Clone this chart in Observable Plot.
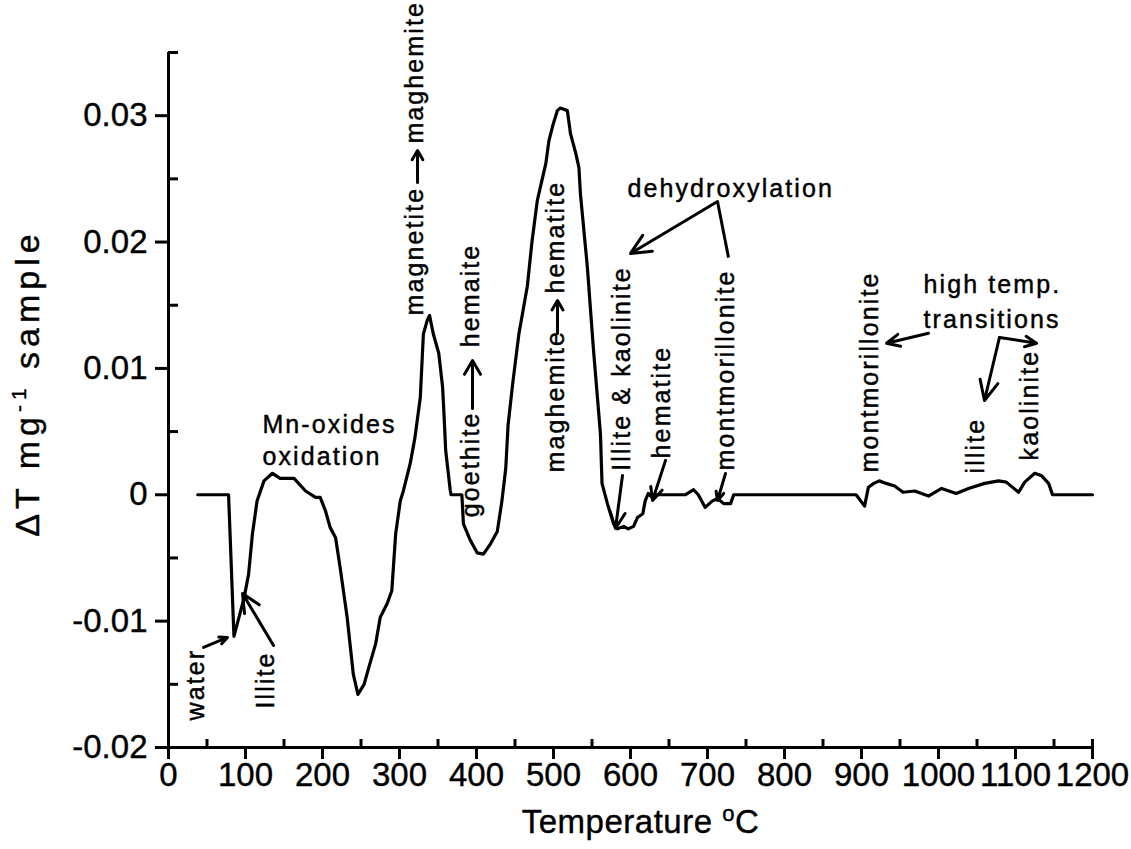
<!DOCTYPE html>
<html><head><meta charset="utf-8">
<script src="https://cdn.jsdelivr.net/npm/d3@7"></script>
<script src="https://cdn.jsdelivr.net/npm/@observablehq/plot@0.6"></script>
<style>
body{margin:0;background:#fff;}
g[aria-description="annot"]{letter-spacing:2.1px;stroke:#000;stroke-width:0.45px}
g[aria-description="ylabel"]{letter-spacing:5px;stroke:#000;stroke-width:0.4px}
g[aria-description="xlabel"]{letter-spacing:0.5px;stroke:#000;stroke-width:0.4px}
g[aria-label$="tick label"]{stroke:#000;stroke-width:0.4px}
</style></head><body><div id="chart"></div>
<script>
// DTA curve: temperature (°C) and ΔT per mg sample
const temperature = [38,78,85,98,104,109,115,124,135,145,163,178,191,197,204,210,217,223,232,240,246,254,260,269,275,284,290,295,301,305,314,320,327,331,336,339,344,351,356,358,360,366,367,381,383,392,401,409,418,427,433,438,441,447,455,466,472,479,490,494,499,505,509,518,522,529,533,535,544,552,561,563,570,578,583,591,597,604,609,616,619,623,628,630,671,682,688,697,706,713,721,730,734,893,904,909,916,923,932,943,954,969,987,1004,1023,1039,1060,1078,1088,1104,1112,1125,1134,1143,1147,1148,1200];
const deltaT = [0,0,-0.0112,-0.0082,-0.0063,-0.0031,-0.0005,0.0011,0.0017,0.0013,0.0013,0.0003,-0.0002,-0.0002,-0.0013,-0.0026,-0.0034,-0.0058,-0.0097,-0.0142,-0.0158,-0.0150,-0.0137,-0.0118,-0.0097,-0.0086,-0.0076,-0.0031,-0.0005,0.0003,0.0025,0.0045,0.0077,0.0127,0.0138,0.0142,0.0127,0.0112,0.0085,0.0061,0.0035,0.0003,0,0,-0.0023,-0.0036,-0.0046,-0.0047,-0.0039,-0.0029,-0.0005,0.0021,0.0055,0.0088,0.0127,0.0165,0.0200,0.0233,0.0262,0.0280,0.0292,0.0304,0.0306,0.0304,0.0286,0.0270,0.0259,0.0238,0.0180,0.0114,0.0048,0.0009,-0.0007,-0.0023,-0.0027,-0.0025,-0.0027,-0.0025,-0.0018,-0.0015,-0.0005,0.0001,-0.0002,0,0,0.0004,0,-0.0010,-0.0005,-0.0003,-0.0007,-0.0007,0,0,-0.0009,0.0006,0.0009,0.0011,0.0009,0.0007,0.0002,0.0003,-0.0001,0.0005,0.0001,0.0005,0.0009,0.0011,0.0010,0.0002,0.0010,0.0017,0.0015,0.0009,0.0002,0,0];

// axis ticks
const xTicks = [0,100,200,300,400,500,600,700,800,900,1000,1100,1200];
const xTickLabels = ["0","100","200","300","400","500","600","700","800","900","1000","1100","1200"];
const xMinor = [50,150,250,350,450,550,650,750,850,950,1050,1150,1200];
const yTicks = [-0.02,-0.01,0,0.01,0.02,0.03];
const yTickLabels = ["-0.02","-0.01","0","0.01","0.02","0.03"];
const yMinor = [-0.015,-0.005,0.005,0.015,0.025,0.035];

// vertical annotation labels (text starts at bottom)
const vLabels = ["water","Illite","magnetite","maghemite","goethite","hemaite","maghemite","hematite","Illite & kaolinite","hematite","montmorillonite","montmorillonite","illite","kaolinite"];
const vLabelT = [35.7,126.6,319.5,319.5,392.9,392.9,503.2,503.2,589,641,724,911,1048.7,1118.8];
const vLabelV = [-0.01786,-0.01691,0.01419,0.02779,-0.00178,0.01167,0.00176,0.01593,0.0019,0.00288,0.00192,0.00176,0.00169,0.00272];

// horizontal annotation labels
const hLabels = ["Mn-oxides","oxidation","dehydroxylation","high temp.","transitions"];
const hLabelT = [122,122,596,980.5,980.5];
const hLabelV = [0.00485,0.00232,0.02353,0.01594,0.01317];

// annotation arrows (from -> to, arrowhead at "to")
const arrowT1 = [45.5,136.4,589.6,645.5,723.4,713,987,1079.2,1079.2];
const arrowV1 = [-0.01208,-0.01193,0.00153,0.00272,0.00169,0.02321,0.01278,0.01245,0.01245];
const arrowT2 = [76.6,96.1,580.5,628.6,713,600,932.5,1059.7,1127.3];
const arrowV2 = [-0.01129,-0.00781,-0.00267,-0.00045,-0.00045,0.0191,0.01199,0.00746,0.01199];
// small transformation arrows inside the vertical labels
const transT = [323.4,394.8,505.2];
const transV1 = [0.02471,0.00683,0.01277];
const transV2 = [0.02724,0.01063,0.01538];
// plain connector lines
const linkT1 = [713], linkV1 = [0.02321], linkT2 = [727.3], linkV2 = [0.01877];

const curve = temperature.map((t,i)=>({t, v: deltaT[i]}));
const vRows = vLabels.map((s,i)=>({s, t: vLabelT[i], v: vLabelV[i]}));
const hRows = hLabels.map((s,i)=>({s, t: hLabelT[i], v: hLabelV[i]}));
const arrows = arrowT1.map((t,i)=>({x1:t, y1:arrowV1[i], x2:arrowT2[i], y2:arrowV2[i]}));
const trans = transT.map((t,i)=>({x1:t, y1:transV1[i], x2:t, y2:transV2[i]}));
const links = linkT1.map((t,i)=>({x1:t, y1:linkV1[i], x2:linkT2[i], y2:linkV2[i]}));

const svg = Plot.plot({
  width: 1131, height: 849,
  marginLeft: 168, marginRight: 39, marginTop: 52, marginBottom: 102,
  x: {domain: [0,1200]},
  y: {domain: [-0.02,0.035]},
  style: {fontFamily: "'Liberation Sans', Arial, Helvetica, sans-serif", color: "black", background: "white"},
  marks: [
    Plot.ruleX([0], {strokeWidth: 3}),
    Plot.ruleY([-0.02], {strokeWidth: 3}),
    Plot.axisY({ticks: yTicks, tickFormat: d => yTickLabels[yTicks.indexOf(d)], tickSize: 13, tickPadding: 8, fontSize: 33, strokeWidth: 3, label: null}),
    Plot.axisX({ticks: xTicks, tickFormat: d => xTickLabels[xTicks.indexOf(d)], tickSize: 12, tickPadding: 3, fontSize: 33, strokeWidth: 3, label: null}),
    Plot.tickY(yMinor, {insetRight: 914, strokeWidth: 3}),
    Plot.tickX(xMinor, {insetTop: 687, strokeWidth: 3}),
    Plot.line(curve, {x: "t", y: "v", strokeWidth: 3.2, strokeLinejoin: "round"}),
    Plot.arrow(arrows, {x1: "x1", y1: "y1", x2: "x2", y2: "y2", strokeWidth: 3, headLength: 11, headAngle: 50}),
    Plot.arrow(trans, {x1: "x1", y1: "y1", x2: "x2", y2: "y2", strokeWidth: 3, headLength: 9, headAngle: 60}),
    Plot.link(links, {x1: "x1", y1: "y1", x2: "x2", y2: "y2", strokeWidth: 3}),
    Plot.text(vRows, {x: "t", y: "v", text: "s", rotate: -90, textAnchor: "start", lineAnchor: "middle", fontSize: 25, fill: "black", ariaDescription: "annot"}),
    Plot.text(hRows, {x: "t", y: "v", text: "s", textAnchor: "start", lineAnchor: "bottom", fontSize: 25, fill: "black", ariaDescription: "annot"}),
    Plot.text(["Temperature C"], {frameAnchor: "bottom", dx: 10, dy: 85, textAnchor: "middle", lineAnchor: "bottom", fontSize: 33, fill: "black", ariaDescription: "xlabel"}),
    Plot.text(["\u0394T mg sample"], {frameAnchor: "left", dx: -140, dy: -17, rotate: -90, textAnchor: "middle", lineAnchor: "middle", fontSize: 34, fill: "black", ariaDescription: "ylabel"})
  ]
});

// superscripts in axis labels
const xl = d3.select(svg).select('g[aria-description="xlabel"] text');
xl.text(null);
xl.append("tspan").text("Temperature\u00a0");
xl.append("tspan").attr("dy", "-12px").attr("font-size", "22px").text("o");
xl.append("tspan").attr("dy", "12px").text("C");
const yl = d3.select(svg).select('g[aria-description="ylabel"] text');
yl.text(null);
yl.append("tspan").text("\u0394T mg");
yl.append("tspan").attr("dy", "-13px").attr("font-size", "21px").text("-1");
yl.append("tspan").attr("dy", "13px").text("\u00a0sample");

document.getElementById("chart").appendChild(svg);
</script></body></html>
